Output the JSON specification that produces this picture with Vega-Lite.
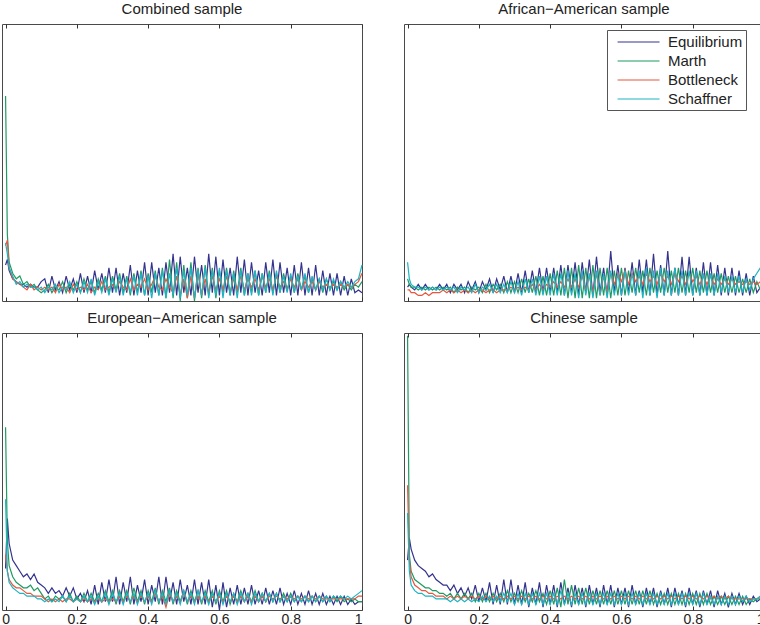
{
 "$schema": "https://vega.github.io/schema/vega-lite/v6.json",
 "padding": {"left": 1, "top": 1, "right": 0, "bottom": 0},
 "background": "white",
 "config": {
  "font": "Liberation Sans",
  "view": {"stroke": "#4a4a4a", "strokeWidth": 1},
  "title": {"fontSize": 15, "fontWeight": "normal", "color": "#222222", "offset": 7},
  "axis": {"grid": false, "domain": false, "tickColor": "#333333", "tickWidth": 1, "labelFontSize": 14, "labelColor": "#222222", "title": null},
  "line": {"strokeWidth": 1.2}
 },
 "datasets": {
  "C": [
   {"x":0,"E":13,"M":74,"B":20,"S":21},{"x":0.005,"E":15,"M":24,"B":22,"S":17},{"x":0.01,"E":11,"M":14,"B":12,"S":12},{"x":0.02,"E":8,"M":10,"B":8,"S":9},{"x":0.03,"E":7,"M":8,"B":7,"S":6},{"x":0.04,"E":6,"M":9,"B":6,"S":7},{"x":0.05,"E":6,"M":6,"B":5,"S":5},{"x":0.06,"E":5,"M":7,"B":4,"S":6},{"x":0.07,"E":6,"M":5,"B":6,"S":5},{"x":0.08,"E":5,"M":6,"B":4,"S":5},{"x":0.09,"E":5,"M":4,"B":5,"S":4},{"x":0.1,"E":7,"M":3,"B":4,"S":5},
   {"x":0.11,"E":8,"M":4,"B":5,"S":3},{"x":0.12,"E":3,"M":6,"B":4,"S":5},{"x":0.13,"E":9,"M":3,"B":5,"S":4},{"x":0.14,"E":4,"M":5,"B":3,"S":6},{"x":0.15,"E":7,"M":4,"B":6,"S":3},{"x":0.16,"E":3,"M":7,"B":4,"S":5},{"x":0.17,"E":9,"M":3,"B":5,"S":4},{"x":0.18,"E":4,"M":6,"B":3,"S":7},{"x":0.19,"E":8,"M":4,"B":6,"S":3},{"x":0.2,"E":3,"M":7,"B":4,"S":6},
   {"x":0.21,"E":10,"M":3,"B":5,"S":3},{"x":0.22,"E":3,"M":8,"B":4,"S":7},{"x":0.23,"E":9,"M":4,"B":6,"S":3},{"x":0.24,"E":3,"M":7,"B":3,"S":8},{"x":0.25,"E":11,"M":3,"B":5,"S":2},{"x":0.26,"E":4,"M":8,"B":4,"S":7},{"x":0.27,"E":10,"M":4,"B":7,"S":3},{"x":0.28,"E":3,"M":9,"B":4,"S":8},{"x":0.29,"E":12,"M":3,"B":5,"S":2},{"x":0.3,"E":3,"M":9,"B":6,"S":8},
   {"x":0.31,"E":12,"M":4,"B":4,"S":3},{"x":0.32,"E":2,"M":10,"B":7,"S":9},{"x":0.33,"E":10,"M":3,"B":5,"S":2},{"x":0.34,"E":3,"M":9,"B":4,"S":8},{"x":0.35,"E":13,"M":2,"B":8,"S":3},{"x":0.36,"E":2,"M":10,"B":4,"S":9},{"x":0.37,"E":11,"M":3,"B":6,"S":2},{"x":0.38,"E":3,"M":11,"B":5,"S":10},{"x":0.39,"E":14,"M":2,"B":8,"S":2},{"x":0.4,"E":2,"M":10,"B":4,"S":9},
   {"x":0.41,"E":14,"M":3,"B":6,"S":1},{"x":0.42,"E":3,"M":11,"B":9,"S":10},{"x":0.43,"E":12,"M":2,"B":5,"S":2},{"x":0.44,"E":2,"M":12,"B":4,"S":11},{"x":0.45,"E":14,"M":1,"B":8,"S":1},{"x":0.46,"E":3,"M":15,"B":5,"S":10},{"x":0.47,"E":17,"M":1,"B":3,"S":2},{"x":0.48,"E":2,"M":14,"B":9,"S":12},{"x":0.49,"E":16,"M":0,"B":2,"S":1},{"x":0.5,"E":3,"M":13,"B":8,"S":11},
   {"x":0.51,"E":12,"M":1,"B":1,"S":2},{"x":0.52,"E":2,"M":14,"B":9,"S":12},{"x":0.53,"E":16,"M":0,"B":1,"S":1},{"x":0.54,"E":3,"M":12,"B":10,"S":11},{"x":0.55,"E":13,"M":1,"B":2,"S":2},{"x":0.56,"E":2,"M":13,"B":8,"S":12},{"x":0.57,"E":17,"M":2,"B":3,"S":1},{"x":0.58,"E":3,"M":12,"B":9,"S":11},{"x":0.59,"E":16,"M":1,"B":4,"S":2},{"x":0.6,"E":2,"M":11,"B":8,"S":12},
   {"x":0.61,"E":15,"M":3,"B":4,"S":1},{"x":0.62,"E":3,"M":12,"B":9,"S":11},{"x":0.63,"E":12,"M":2,"B":3,"S":2},{"x":0.64,"E":2,"M":11,"B":8,"S":10},{"x":0.65,"E":16,"M":3,"B":4,"S":1},{"x":0.66,"E":3,"M":12,"B":9,"S":11},{"x":0.67,"E":15,"M":2,"B":4,"S":2},{"x":0.68,"E":2,"M":10,"B":8,"S":10},{"x":0.69,"E":14,"M":3,"B":5,"S":2},{"x":0.7,"E":3,"M":11,"B":8,"S":11},
   {"x":0.71,"E":11,"M":2,"B":4,"S":2},{"x":0.72,"E":2,"M":10,"B":9,"S":10},{"x":0.73,"E":14,"M":3,"B":5,"S":3},{"x":0.74,"E":3,"M":11,"B":8,"S":10},{"x":0.75,"E":15,"M":3,"B":4,"S":2},{"x":0.76,"E":2,"M":10,"B":9,"S":11},{"x":0.77,"E":14,"M":3,"B":5,"S":3},{"x":0.78,"E":3,"M":10,"B":7,"S":9},{"x":0.79,"E":12,"M":4,"B":4,"S":3},{"x":0.8,"E":2,"M":9,"B":8,"S":10},
   {"x":0.81,"E":13,"M":3,"B":5,"S":3},{"x":0.82,"E":2,"M":10,"B":8,"S":9},{"x":0.83,"E":14,"M":4,"B":4,"S":4},{"x":0.84,"E":2,"M":9,"B":7,"S":10},{"x":0.85,"E":12,"M":3,"B":5,"S":3},{"x":0.86,"E":2,"M":8,"B":7,"S":9},{"x":0.87,"E":13,"M":4,"B":4,"S":4},{"x":0.88,"E":2,"M":8,"B":7,"S":8},{"x":0.89,"E":11,"M":3,"B":5,"S":4},{"x":0.9,"E":2,"M":8,"B":6,"S":8},
   {"x":0.91,"E":10,"M":4,"B":5,"S":4},{"x":0.92,"E":2,"M":7,"B":6,"S":8},{"x":0.93,"E":10,"M":4,"B":5,"S":4},{"x":0.94,"E":2,"M":7,"B":6,"S":7},{"x":0.95,"E":9,"M":4,"B":5,"S":5},{"x":0.96,"E":2,"M":6,"B":6,"S":7},{"x":0.97,"E":8,"M":4,"B":5,"S":5},{"x":0.98,"E":3,"M":6,"B":6,"S":7},{"x":0.99,"E":4,"M":5,"B":7,"S":8},{"x":1,"E":3,"M":7,"B":10,"S":13}
  ],
  "A": [
   {"x":0,"E":5,"M":8,"B":4,"S":14},{"x":0.005,"E":6,"M":6,"B":4,"S":8},{"x":0.01,"E":5,"M":5,"B":3,"S":6},{"x":0.02,"E":4,"M":5,"B":3,"S":5},{"x":0.03,"E":6,"M":4,"B":2,"S":5},{"x":0.04,"E":4,"M":5,"B":2,"S":4},{"x":0.05,"E":6,"M":4,"B":3,"S":5},{"x":0.06,"E":4,"M":5,"B":2,"S":4},{"x":0.07,"E":5,"M":4,"B":3,"S":5},{"x":0.08,"E":4,"M":5,"B":3,"S":4},{"x":0.09,"E":6,"M":4,"B":3,"S":5},{"x":0.1,"E":4,"M":5,"B":4,"S":4},
   {"x":0.11,"E":6,"M":4,"B":3,"S":5},{"x":0.12,"E":3,"M":5,"B":4,"S":4},{"x":0.13,"E":6,"M":3,"B":3,"S":5},{"x":0.14,"E":4,"M":5,"B":4,"S":3},{"x":0.15,"E":6,"M":4,"B":3,"S":5},{"x":0.16,"E":3,"M":5,"B":4,"S":4},{"x":0.17,"E":7,"M":3,"B":3,"S":5},{"x":0.18,"E":4,"M":5,"B":4,"S":3},{"x":0.19,"E":7,"M":4,"B":3,"S":6},{"x":0.2,"E":3,"M":5,"B":4,"S":3},
   {"x":0.21,"E":7,"M":3,"B":4,"S":5},{"x":0.22,"E":4,"M":6,"B":3,"S":4},{"x":0.23,"E":8,"M":3,"B":4,"S":6},{"x":0.24,"E":3,"M":6,"B":4,"S":3},{"x":0.25,"E":8,"M":4,"B":3,"S":6},{"x":0.26,"E":4,"M":6,"B":4,"S":3},{"x":0.27,"E":9,"M":3,"B":4,"S":6},{"x":0.28,"E":3,"M":7,"B":4,"S":3},{"x":0.29,"E":9,"M":3,"B":5,"S":7},{"x":0.3,"E":3,"M":7,"B":4,"S":3},
   {"x":0.31,"E":10,"M":3,"B":5,"S":7},{"x":0.32,"E":3,"M":8,"B":4,"S":2},{"x":0.33,"E":11,"M":3,"B":5,"S":8},{"x":0.34,"E":3,"M":8,"B":4,"S":3},{"x":0.35,"E":11,"M":3,"B":6,"S":8},{"x":0.36,"E":3,"M":9,"B":4,"S":2},{"x":0.37,"E":12,"M":2,"B":6,"S":9},{"x":0.38,"E":3,"M":9,"B":4,"S":2},{"x":0.39,"E":12,"M":2,"B":6,"S":9},{"x":0.4,"E":3,"M":10,"B":5,"S":2},
   {"x":0.41,"E":12,"M":2,"B":7,"S":10},{"x":0.42,"E":3,"M":11,"B":5,"S":2},{"x":0.43,"E":13,"M":2,"B":7,"S":10},{"x":0.44,"E":2,"M":12,"B":5,"S":2},{"x":0.45,"E":13,"M":1,"B":8,"S":11},{"x":0.46,"E":3,"M":12,"B":5,"S":2},{"x":0.47,"E":14,"M":1,"B":8,"S":10},{"x":0.48,"E":2,"M":13,"B":5,"S":1},{"x":0.49,"E":14,"M":1,"B":9,"S":11},{"x":0.5,"E":3,"M":12,"B":4,"S":2},
   {"x":0.51,"E":15,"M":1,"B":9,"S":10},{"x":0.52,"E":2,"M":13,"B":3,"S":1},{"x":0.53,"E":16,"M":1,"B":10,"S":11},{"x":0.54,"E":3,"M":12,"B":2,"S":2},{"x":0.55,"E":12,"M":2,"B":9,"S":10},{"x":0.56,"E":2,"M":12,"B":3,"S":1},{"x":0.57,"E":18,"M":1,"B":10,"S":11},{"x":0.58,"E":3,"M":11,"B":6,"S":2},{"x":0.59,"E":13,"M":2,"B":10,"S":10},{"x":0.6,"E":2,"M":12,"B":7,"S":2},
   {"x":0.61,"E":12,"M":2,"B":11,"S":11},{"x":0.62,"E":3,"M":11,"B":6,"S":2},{"x":0.63,"E":14,"M":3,"B":10,"S":10},{"x":0.64,"E":2,"M":12,"B":7,"S":2},{"x":0.65,"E":15,"M":3,"B":9,"S":11},{"x":0.66,"E":3,"M":11,"B":6,"S":1},{"x":0.67,"E":15,"M":2,"B":10,"S":12},{"x":0.68,"E":2,"M":12,"B":7,"S":2},{"x":0.69,"E":17,"M":3,"B":9,"S":11},{"x":0.7,"E":2,"M":11,"B":6,"S":1},
   {"x":0.71,"E":13,"M":3,"B":10,"S":12},{"x":0.72,"E":2,"M":12,"B":7,"S":2},{"x":0.73,"E":18,"M":3,"B":9,"S":11},{"x":0.74,"E":2,"M":11,"B":6,"S":2},{"x":0.75,"E":12,"M":3,"B":10,"S":12},{"x":0.76,"E":2,"M":12,"B":7,"S":2},{"x":0.77,"E":16,"M":3,"B":9,"S":11},{"x":0.78,"E":2,"M":11,"B":6,"S":2},{"x":0.79,"E":16,"M":3,"B":10,"S":11},{"x":0.8,"E":2,"M":12,"B":7,"S":2},
   {"x":0.81,"E":12,"M":3,"B":9,"S":11},{"x":0.82,"E":2,"M":11,"B":6,"S":2},{"x":0.83,"E":14,"M":3,"B":9,"S":10},{"x":0.84,"E":2,"M":11,"B":6,"S":2},{"x":0.85,"E":14,"M":3,"B":9,"S":10},{"x":0.86,"E":2,"M":10,"B":6,"S":2},{"x":0.87,"E":13,"M":3,"B":8,"S":10},{"x":0.88,"E":2,"M":10,"B":6,"S":3},{"x":0.89,"E":12,"M":3,"B":8,"S":9},{"x":0.9,"E":2,"M":9,"B":6,"S":3},
   {"x":0.91,"E":12,"M":3,"B":8,"S":9},{"x":0.92,"E":2,"M":9,"B":6,"S":3},{"x":0.93,"E":11,"M":3,"B":7,"S":9},{"x":0.94,"E":2,"M":8,"B":6,"S":3},{"x":0.95,"E":10,"M":3,"B":7,"S":8},{"x":0.96,"E":2,"M":8,"B":6,"S":4},{"x":0.97,"E":9,"M":3,"B":7,"S":8},{"x":0.98,"E":3,"M":7,"B":6,"S":10},{"x":0.99,"E":5,"M":4,"B":7,"S":12},{"x":1,"E":2,"M":5,"B":6,"S":13}
  ],
  "E": [
   {"x":0,"E":15,"M":66,"B":20,"S":40},{"x":0.005,"E":33,"M":25,"B":14,"S":14},{"x":0.01,"E":24,"M":16,"B":11,"S":10},{"x":0.02,"E":18,"M":12,"B":9,"S":8},{"x":0.03,"E":16,"M":10,"B":8,"S":7},{"x":0.04,"E":14,"M":9,"B":8,"S":6},{"x":0.05,"E":12,"M":8,"B":7,"S":6},{"x":0.06,"E":13,"M":8,"B":6,"S":5},{"x":0.07,"E":11,"M":9,"B":6,"S":5},{"x":0.08,"E":13,"M":7,"B":5,"S":5},{"x":0.09,"E":10,"M":8,"B":5,"S":4},{"x":0.1,"E":9,"M":6,"B":5,"S":4},
   {"x":0.11,"E":8,"M":4,"B":4,"S":3},{"x":0.12,"E":6,"M":5,"B":3,"S":4},{"x":0.13,"E":8,"M":3,"B":4,"S":3},{"x":0.14,"E":6,"M":5,"B":3,"S":4},{"x":0.15,"E":7,"M":4,"B":4,"S":3},{"x":0.16,"E":5,"M":5,"B":3,"S":5},{"x":0.17,"E":8,"M":3,"B":4,"S":3},{"x":0.18,"E":5,"M":6,"B":4,"S":5},{"x":0.19,"E":8,"M":3,"B":3,"S":3},{"x":0.2,"E":4,"M":5,"B":4,"S":4},
   {"x":0.21,"E":6,"M":3,"B":3,"S":3},{"x":0.22,"E":3,"M":6,"B":4,"S":5},{"x":0.23,"E":7,"M":3,"B":3,"S":3},{"x":0.24,"E":2,"M":6,"B":4,"S":5},{"x":0.25,"E":9,"M":3,"B":3,"S":2},{"x":0.26,"E":2,"M":6,"B":4,"S":5},{"x":0.27,"E":10,"M":3,"B":3,"S":3},{"x":0.28,"E":3,"M":7,"B":4,"S":6},{"x":0.29,"E":11,"M":3,"B":3,"S":2},{"x":0.3,"E":3,"M":7,"B":4,"S":6},
   {"x":0.31,"E":12,"M":2,"B":3,"S":3},{"x":0.32,"E":2,"M":7,"B":5,"S":6},{"x":0.33,"E":10,"M":3,"B":3,"S":2},{"x":0.34,"E":3,"M":7,"B":5,"S":6},{"x":0.35,"E":12,"M":2,"B":3,"S":3},{"x":0.36,"E":2,"M":8,"B":5,"S":6},{"x":0.37,"E":9,"M":3,"B":3,"S":2},{"x":0.38,"E":3,"M":7,"B":5,"S":6},{"x":0.39,"E":11,"M":2,"B":3,"S":3},{"x":0.4,"E":2,"M":7,"B":5,"S":6},
   {"x":0.41,"E":9,"M":3,"B":3,"S":2},{"x":0.42,"E":3,"M":8,"B":6,"S":7},{"x":0.43,"E":12,"M":2,"B":3,"S":3},{"x":0.44,"E":2,"M":7,"B":5,"S":6},{"x":0.45,"E":12,"M":3,"B":1,"S":2},{"x":0.46,"E":3,"M":8,"B":6,"S":7},{"x":0.47,"E":10,"M":2,"B":3,"S":3},{"x":0.48,"E":2,"M":7,"B":5,"S":6},{"x":0.49,"E":11,"M":3,"B":3,"S":2},{"x":0.5,"E":3,"M":7,"B":6,"S":7},
   {"x":0.51,"E":9,"M":2,"B":3,"S":3},{"x":0.52,"E":2,"M":7,"B":5,"S":6},{"x":0.53,"E":11,"M":3,"B":3,"S":2},{"x":0.54,"E":2,"M":7,"B":5,"S":7},{"x":0.55,"E":10,"M":2,"B":3,"S":3},{"x":0.56,"E":2,"M":7,"B":5,"S":6},{"x":0.57,"E":11,"M":3,"B":3,"S":2},{"x":0.58,"E":1,"M":7,"B":5,"S":6},{"x":0.59,"E":9,"M":2,"B":3,"S":3},{"x":0.6,"E":0,"M":7,"B":5,"S":6},
   {"x":0.61,"E":10,"M":3,"B":3,"S":2},{"x":0.62,"E":1,"M":7,"B":5,"S":6},{"x":0.63,"E":8,"M":2,"B":3,"S":3},{"x":0.64,"E":2,"M":6,"B":5,"S":6},{"x":0.65,"E":9,"M":3,"B":3,"S":2},{"x":0.66,"E":2,"M":7,"B":5,"S":6},{"x":0.67,"E":8,"M":3,"B":3,"S":3},{"x":0.68,"E":2,"M":6,"B":5,"S":6},{"x":0.69,"E":9,"M":3,"B":3,"S":2},{"x":0.7,"E":2,"M":7,"B":5,"S":6},
   {"x":0.71,"E":7,"M":3,"B":3,"S":3},{"x":0.72,"E":2,"M":6,"B":5,"S":6},{"x":0.73,"E":8,"M":3,"B":3,"S":3},{"x":0.74,"E":2,"M":6,"B":5,"S":6},{"x":0.75,"E":7,"M":3,"B":4,"S":3},{"x":0.76,"E":2,"M":6,"B":5,"S":6},{"x":0.77,"E":8,"M":3,"B":4,"S":3},{"x":0.78,"E":2,"M":6,"B":5,"S":5},{"x":0.79,"E":6,"M":3,"B":4,"S":3},{"x":0.8,"E":2,"M":6,"B":5,"S":5},
   {"x":0.81,"E":7,"M":3,"B":4,"S":3},{"x":0.82,"E":2,"M":5,"B":5,"S":5},{"x":0.83,"E":6,"M":3,"B":4,"S":3},{"x":0.84,"E":2,"M":5,"B":5,"S":5},{"x":0.85,"E":7,"M":3,"B":4,"S":3},{"x":0.86,"E":2,"M":5,"B":5,"S":5},{"x":0.87,"E":6,"M":3,"B":4,"S":3},{"x":0.88,"E":2,"M":5,"B":5,"S":5},{"x":0.89,"E":6,"M":3,"B":4,"S":3},{"x":0.9,"E":2,"M":5,"B":4,"S":5},
   {"x":0.91,"E":5,"M":3,"B":4,"S":3},{"x":0.92,"E":2,"M":5,"B":4,"S":5},{"x":0.93,"E":5,"M":3,"B":4,"S":4},{"x":0.94,"E":2,"M":5,"B":4,"S":5},{"x":0.95,"E":5,"M":3,"B":4,"S":4},{"x":0.96,"E":2,"M":4,"B":4,"S":5},{"x":0.97,"E":4,"M":3,"B":4,"S":4},{"x":0.98,"E":2,"M":4,"B":4,"S":5},{"x":0.99,"E":3,"M":3,"B":5,"S":6},{"x":1,"E":3,"M":3,"B":5,"S":7}
  ],
  "H": [
   {"x":0,"E":18,"M":99,"B":45,"S":35},{"x":0.005,"E":26,"M":20,"B":18,"S":14},{"x":0.01,"E":22,"M":14,"B":12,"S":9},{"x":0.02,"E":18,"M":11,"B":9,"S":7},{"x":0.03,"E":16,"M":10,"B":8,"S":6},{"x":0.04,"E":15,"M":9,"B":7,"S":6},{"x":0.05,"E":14,"M":8,"B":7,"S":5},{"x":0.06,"E":12,"M":8,"B":6,"S":5},{"x":0.07,"E":13,"M":7,"B":6,"S":5},{"x":0.08,"E":11,"M":7,"B":5,"S":4},{"x":0.09,"E":10,"M":6,"B":5,"S":4},{"x":0.1,"E":9,"M":6,"B":5,"S":4},
   {"x":0.11,"E":9,"M":5,"B":4,"S":4},{"x":0.12,"E":7,"M":6,"B":5,"S":3},{"x":0.13,"E":9,"M":4,"B":4,"S":4},{"x":0.14,"E":6,"M":6,"B":5,"S":3},{"x":0.15,"E":8,"M":4,"B":4,"S":4},{"x":0.16,"E":5,"M":6,"B":5,"S":3},{"x":0.17,"E":8,"M":4,"B":4,"S":4},{"x":0.18,"E":4,"M":6,"B":5,"S":3},{"x":0.19,"E":9,"M":3,"B":4,"S":4},{"x":0.2,"E":3,"M":6,"B":5,"S":3},
   {"x":0.21,"E":8,"M":3,"B":4,"S":5},{"x":0.22,"E":3,"M":6,"B":5,"S":3},{"x":0.23,"E":10,"M":3,"B":4,"S":5},{"x":0.24,"E":2,"M":6,"B":5,"S":3},{"x":0.25,"E":9,"M":3,"B":4,"S":5},{"x":0.26,"E":2,"M":6,"B":5,"S":3},{"x":0.27,"E":11,"M":3,"B":4,"S":6},{"x":0.28,"E":2,"M":7,"B":5,"S":3},{"x":0.29,"E":11,"M":3,"B":4,"S":6},{"x":0.3,"E":2,"M":6,"B":5,"S":2},
   {"x":0.31,"E":9,"M":3,"B":4,"S":6},{"x":0.32,"E":2,"M":7,"B":5,"S":2},{"x":0.33,"E":10,"M":3,"B":4,"S":6},{"x":0.34,"E":1,"M":6,"B":5,"S":2},{"x":0.35,"E":8,"M":3,"B":4,"S":6},{"x":0.36,"E":2,"M":7,"B":5,"S":2},{"x":0.37,"E":10,"M":3,"B":4,"S":6},{"x":0.38,"E":1,"M":6,"B":5,"S":2},{"x":0.39,"E":9,"M":2,"B":4,"S":6},{"x":0.4,"E":2,"M":7,"B":5,"S":2},
   {"x":0.41,"E":9,"M":2,"B":4,"S":6},{"x":0.42,"E":1,"M":8,"B":5,"S":2},{"x":0.43,"E":10,"M":1,"B":4,"S":7},{"x":0.44,"E":2,"M":11,"B":5,"S":2},{"x":0.45,"E":8,"M":2,"B":4,"S":6},{"x":0.46,"E":1,"M":9,"B":5,"S":2},{"x":0.47,"E":9,"M":2,"B":4,"S":6},{"x":0.48,"E":2,"M":8,"B":5,"S":2},{"x":0.49,"E":8,"M":2,"B":4,"S":6},{"x":0.5,"E":1,"M":8,"B":5,"S":2},
   {"x":0.51,"E":9,"M":2,"B":4,"S":6},{"x":0.52,"E":2,"M":7,"B":5,"S":2},{"x":0.53,"E":8,"M":2,"B":4,"S":6},{"x":0.54,"E":1,"M":7,"B":5,"S":2},{"x":0.55,"E":9,"M":2,"B":4,"S":6},{"x":0.56,"E":2,"M":7,"B":5,"S":2},{"x":0.57,"E":9,"M":2,"B":4,"S":6},{"x":0.58,"E":1,"M":7,"B":5,"S":2},{"x":0.59,"E":8,"M":2,"B":4,"S":6},{"x":0.6,"E":2,"M":7,"B":5,"S":2},
   {"x":0.61,"E":8,"M":2,"B":4,"S":6},{"x":0.62,"E":1,"M":7,"B":5,"S":2},{"x":0.63,"E":9,"M":2,"B":4,"S":6},{"x":0.64,"E":2,"M":7,"B":5,"S":2},{"x":0.65,"E":7,"M":2,"B":4,"S":6},{"x":0.66,"E":1,"M":7,"B":5,"S":2},{"x":0.67,"E":8,"M":2,"B":4,"S":6},{"x":0.68,"E":2,"M":7,"B":5,"S":2},{"x":0.69,"E":8,"M":2,"B":4,"S":6},{"x":0.7,"E":1,"M":6,"B":5,"S":2},
   {"x":0.71,"E":7,"M":2,"B":4,"S":6},{"x":0.72,"E":2,"M":6,"B":5,"S":2},{"x":0.73,"E":8,"M":2,"B":4,"S":6},{"x":0.74,"E":1,"M":6,"B":5,"S":2},{"x":0.75,"E":8,"M":2,"B":4,"S":6},{"x":0.76,"E":2,"M":6,"B":5,"S":2},{"x":0.77,"E":7,"M":2,"B":4,"S":6},{"x":0.78,"E":1,"M":6,"B":5,"S":2},{"x":0.79,"E":8,"M":2,"B":4,"S":6},{"x":0.8,"E":2,"M":6,"B":5,"S":2},
   {"x":0.81,"E":7,"M":2,"B":4,"S":6},{"x":0.82,"E":1,"M":6,"B":5,"S":2},{"x":0.83,"E":7,"M":2,"B":4,"S":6},{"x":0.84,"E":2,"M":6,"B":5,"S":2},{"x":0.85,"E":7,"M":2,"B":4,"S":5},{"x":0.86,"E":1,"M":5,"B":5,"S":2},{"x":0.87,"E":7,"M":2,"B":4,"S":5},{"x":0.88,"E":2,"M":5,"B":5,"S":2},{"x":0.89,"E":6,"M":2,"B":4,"S":5},{"x":0.9,"E":1,"M":5,"B":5,"S":2},
   {"x":0.91,"E":6,"M":2,"B":4,"S":5},{"x":0.92,"E":2,"M":5,"B":4,"S":2},{"x":0.93,"E":6,"M":2,"B":4,"S":5},{"x":0.94,"E":2,"M":5,"B":4,"S":3},{"x":0.95,"E":5,"M":2,"B":4,"S":5},{"x":0.96,"E":2,"M":4,"B":4,"S":3},{"x":0.97,"E":5,"M":3,"B":4,"S":4},{"x":0.98,"E":3,"M":4,"B":4,"S":4},{"x":0.99,"E":4,"M":4,"B":5,"S":5},{"x":1,"E":7,"M":5,"B":6,"S":6}
  ]
 },
 "spacing": 6,
 "vconcat": [
  {
   "spacing": 37,
   "hconcat": [
    {
     "width": 360, "height": 277, "title": "Combined sample",
     "data": {"name": "C"},
     "transform": [{"fold": ["E","M","B","S"], "as": ["s","v"]}],
     "layer": [
      {"mark": {"type": "line", "strokeWidth": 1.2},
       "encoding": {
        "x": {"field": "x", "type": "quantitative", "scale": {"domain": [-0.01, 1], "nice": false, "zero": false}, "axis": {"orient": "bottom", "values": [0,0.2,0.4,0.6,0.8,1], "labels": false, "tickSize": -4}},
        "y": {"field": "v", "type": "quantitative", "scale": {"domain": [0, 100], "nice": false}, "axis": null},
        "color": {"field": "s", "type": "nominal", "scale": {"domain": ["E","M","B","S"], "range": ["#34338f","#1f9a62","#e8563f","#1db3c1"]},
         "legend": {"orient": "none", "legendX": 605, "legendY": 6, "title": null, "symbolType": "M-0.17,0H4.83", "symbolSize": 282, "labelFontSize": 15, "labelColor": "#222222", "rowPadding": 2, "labelOffset": 40, "padding": 3, "strokeColor": "#555555", "fillColor": "white",
          "labelExpr": "datum.label == 'E' ? 'Equilibrium' : datum.label == 'M' ? 'Marth' : datum.label == 'B' ? 'Bottleneck' : 'Schaffner'",
          "encode": {"symbols": {"update": {"stroke": {"scale": "color", "field": "value"}, "fill": {"value": "transparent"}, "strokeWidth": {"value": 1.2}}}}}}
       }},
      {"mark": {"type": "point", "opacity": 0},
       "encoding": {"x": {"field": "x", "type": "quantitative", "axis": {"orient": "top", "values": [0,0.2,0.4,0.6,0.8,1], "labels": false, "tickSize": -4}}}}
     ],
     "resolve": {"axis": {"x": "independent"}}
    },
    {
     "width": 360, "height": 277, "title": "African−American sample",
     "data": {"name": "A"},
     "transform": [{"fold": ["E","M","B","S"], "as": ["s","v"]}],
     "layer": [
      {"mark": {"type": "line", "strokeWidth": 1.2},
       "encoding": {
        "x": {"field": "x", "type": "quantitative", "scale": {"domain": [-0.01, 1], "nice": false, "zero": false}, "axis": {"orient": "bottom", "values": [0,0.2,0.4,0.6,0.8,1], "labels": false, "tickSize": -4}},
        "y": {"field": "v", "type": "quantitative", "scale": {"domain": [0, 100], "nice": false}, "axis": null},
        "color": {"field": "s", "type": "nominal", "scale": {"domain": ["E","M","B","S"], "range": ["#34338f","#1f9a62","#e8563f","#1db3c1"]},
         "legend": {"orient": "none", "legendX": 605, "legendY": 6, "title": null, "symbolType": "M-0.17,0H4.83", "symbolSize": 282, "labelFontSize": 15, "labelColor": "#222222", "rowPadding": 2, "labelOffset": 40, "padding": 3, "strokeColor": "#555555", "fillColor": "white",
          "labelExpr": "datum.label == 'E' ? 'Equilibrium' : datum.label == 'M' ? 'Marth' : datum.label == 'B' ? 'Bottleneck' : 'Schaffner'",
          "encode": {"symbols": {"update": {"stroke": {"scale": "color", "field": "value"}, "fill": {"value": "transparent"}, "strokeWidth": {"value": 1.2}}}}}}
       }},
      {"mark": {"type": "point", "opacity": 0},
       "encoding": {"x": {"field": "x", "type": "quantitative", "axis": {"orient": "top", "values": [0,0.2,0.4,0.6,0.8,1], "labels": false, "tickSize": -4}}}}
     ],
     "resolve": {"axis": {"x": "independent"}}
    }
   ]
  },
  {
   "spacing": 37,
   "hconcat": [
    {
     "width": 360, "height": 277, "title": "European−American sample",
     "data": {"name": "E"},
     "transform": [{"fold": ["E","M","B","S"], "as": ["s","v"]}],
     "layer": [
      {"mark": {"type": "line", "strokeWidth": 1.2},
       "encoding": {
        "x": {"field": "x", "type": "quantitative", "scale": {"domain": [-0.01, 1], "nice": false, "zero": false}, "axis": {"orient": "bottom", "values": [0,0.2,0.4,0.6,0.8,1], "labels": true, "tickSize": -4, "labelPadding": 6, "labelExpr": "datum.value == 0 ? '0' : datum.value == 1 ? '1' : datum.label"}},
        "y": {"field": "v", "type": "quantitative", "scale": {"domain": [0, 100], "nice": false}, "axis": null},
        "color": {"field": "s", "type": "nominal", "scale": {"domain": ["E","M","B","S"], "range": ["#34338f","#1f9a62","#e8563f","#1db3c1"]},
         "legend": {"orient": "none", "legendX": 605, "legendY": 6, "title": null, "symbolType": "M-0.17,0H4.83", "symbolSize": 282, "labelFontSize": 15, "labelColor": "#222222", "rowPadding": 2, "labelOffset": 40, "padding": 3, "strokeColor": "#555555", "fillColor": "white",
          "labelExpr": "datum.label == 'E' ? 'Equilibrium' : datum.label == 'M' ? 'Marth' : datum.label == 'B' ? 'Bottleneck' : 'Schaffner'",
          "encode": {"symbols": {"update": {"stroke": {"scale": "color", "field": "value"}, "fill": {"value": "transparent"}, "strokeWidth": {"value": 1.2}}}}}}
       }},
      {"mark": {"type": "point", "opacity": 0},
       "encoding": {"x": {"field": "x", "type": "quantitative", "axis": {"orient": "top", "values": [0,0.2,0.4,0.6,0.8,1], "labels": false, "tickSize": -4}}}}
     ],
     "resolve": {"axis": {"x": "independent"}}
    },
    {
     "width": 360, "height": 277, "title": "Chinese sample",
     "data": {"name": "H"},
     "transform": [{"fold": ["E","M","B","S"], "as": ["s","v"]}],
     "layer": [
      {"mark": {"type": "line", "strokeWidth": 1.2},
       "encoding": {
        "x": {"field": "x", "type": "quantitative", "scale": {"domain": [-0.01, 1], "nice": false, "zero": false}, "axis": {"orient": "bottom", "values": [0,0.2,0.4,0.6,0.8,1], "labels": true, "tickSize": -4, "labelPadding": 6, "labelExpr": "datum.value == 0 ? '0' : datum.value == 1 ? '1' : datum.label"}},
        "y": {"field": "v", "type": "quantitative", "scale": {"domain": [0, 100], "nice": false}, "axis": null},
        "color": {"field": "s", "type": "nominal", "scale": {"domain": ["E","M","B","S"], "range": ["#34338f","#1f9a62","#e8563f","#1db3c1"]},
         "legend": {"orient": "none", "legendX": 605, "legendY": 6, "title": null, "symbolType": "M-0.17,0H4.83", "symbolSize": 282, "labelFontSize": 15, "labelColor": "#222222", "rowPadding": 2, "labelOffset": 40, "padding": 3, "strokeColor": "#555555", "fillColor": "white",
          "labelExpr": "datum.label == 'E' ? 'Equilibrium' : datum.label == 'M' ? 'Marth' : datum.label == 'B' ? 'Bottleneck' : 'Schaffner'",
          "encode": {"symbols": {"update": {"stroke": {"scale": "color", "field": "value"}, "fill": {"value": "transparent"}, "strokeWidth": {"value": 1.2}}}}}}
       }},
      {"mark": {"type": "point", "opacity": 0},
       "encoding": {"x": {"field": "x", "type": "quantitative", "axis": {"orient": "top", "values": [0,0.2,0.4,0.6,0.8,1], "labels": false, "tickSize": -4}}}}
     ],
     "resolve": {"axis": {"x": "independent"}}
    }
   ]
  }
 ]
}
